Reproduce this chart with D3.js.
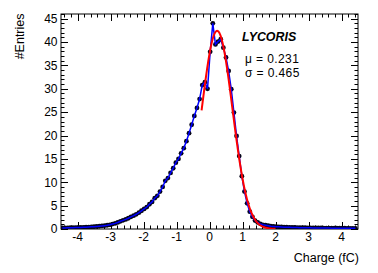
<!DOCTYPE html>
<html>
<head>
<meta charset="utf-8">
<script src="https://cdn.jsdelivr.net/npm/d3@7"></script>
<style>
  html, body { margin: 0; padding: 0; background: #fff; }
  svg { display: block; }
  text { font-family: "Liberation Sans", Arial, Helvetica, sans-serif; fill: #000; }
</style>
</head>
<body>
<svg id="chart" width="378" height="273"></svg>
<script>
// ---- data ----
const binLow = -4.5;
const binWidth = 0.08;
const entries = [
  0.22, 0.24, 0.25, 0.27, 0.28, 0.30, 0.32, 0.34, 0.36, 0.39,
  0.42, 0.46, 0.50, 0.54, 0.59, 0.65, 0.72, 0.80,
  0.9, 1.05, 1.2, 1.4, 1.65, 1.85, 2.05, 2.3, 2.6, 2.85,
  3.15, 3.5, 3.9, 4.3, 4.7, 5.3, 5.8, 6.6, 7.1, 8.0,
  9.0, 10.3, 10.9, 12.0, 13.0, 14.2, 15.0, 16.2, 17.3, 18.8,
  20.5, 22.3, 24.2, 25.9, 27.8, 30.8, 31.4, 30.0,
  37.9, 44.0, 39.5, 40.1, 40.6, 38.8, 36.7, 33.8, 29.9, 24.9,
  19.9, 15.6, 11.3, 8.0, 5.5, 3.7, 2.6, 1.8, 1.4, 1.1,
  0.9, 0.8, 0.7, 0.6, 0.55, 0.5,
  0.46, 0.43, 0.40, 0.38, 0.36, 0.34, 0.32, 0.30, 0.29, 0.28,
  0.27, 0.26, 0.25, 0.24, 0.23, 0.22, 0.21, 0.20, 0.20, 0.19,
  0.18, 0.18, 0.17, 0.17, 0.16, 0.16, 0.15, 0.15, 0.14, 0.14
];
const xTicks = [-4, -3, -2, -1, 0, 1, 2, 3, 4];
const yTicks = [0, 5, 10, 15, 20, 25, 30, 35, 40, 45];
const fitMu = 0.231;
const fitSigma = 0.465;
const fitAmp = 42.4;
const fitRange = [-0.24, 2.0];
const xLabel = "Charge (fC)";
const yLabel = "#Entries";
const tagText = "LYCORIS";
const statLines = ["\u03bc = 0.231", "\u03c3 = 0.465"];

// ---- layout ----
const L = 61, R = 358, T = 14, B = 229;
const x = d3.scaleLinear().domain([-4.5, 4.5]).range([L, R]);
const y = d3.scaleLinear().domain([0, 46]).range([B, T]);
const svg = d3.select("#chart");

const pts = entries.map((v, i) => ({ x: binLow + binWidth * (i + 0.5), y: v }));

// frame
svg.append("rect").attr("x", L).attr("y", T).attr("width", R - L).attr("height", B - T)
  .attr("fill", "none").attr("stroke", "#000").attr("stroke-width", 1);

// axes (ticks inside, ROOT style)
const xMinor = d3.range(-4.4, 4.5, 0.2).map(v => +v.toFixed(2));
const yMinor = d3.range(0, 46.01, 1);
const tickG = svg.append("g").attr("stroke", "#000").attr("stroke-width", 1);
xMinor.forEach(v => {
  const isMajor = Math.abs(v - Math.round(v)) < 1e-6;
  const len = isMajor ? 7 : 3.5;
  const px = Math.round(x(v)) + 0.5;
  tickG.append("line").attr("x1", px).attr("x2", px).attr("y1", B).attr("y2", B - len);
  tickG.append("line").attr("x1", px).attr("x2", px).attr("y1", T).attr("y2", T + len);
});
yMinor.forEach(v => {
  const isMajor = v % 5 === 0;
  const len = isMajor ? 7 : 3.5;
  const py = Math.round(y(v)) + 0.5;
  tickG.append("line").attr("x1", L).attr("x2", L + len).attr("y1", py).attr("y2", py);
  tickG.append("line").attr("x1", R).attr("x2", R - len).attr("y1", py).attr("y2", py);
});

// tick labels
svg.append("g").selectAll("text").data(xTicks).join("text")
  .attr("x", d => x(d)).attr("y", 241).attr("text-anchor", "middle")
  .attr("font-size", 12).text(d => String(d));
svg.append("g").selectAll("text").data(yTicks).join("text")
  .attr("x", 57.5).attr("y", d => y(d) + 4.3).attr("text-anchor", "end")
  .attr("font-size", 12).text(d => String(d));

// axis titles
svg.append("text").attr("x", 359).attr("y", 262).attr("text-anchor", "end")
  .attr("font-size", 12.5).text(xLabel);
svg.append("text").attr("transform", "translate(24,13.5) rotate(-90)")
  .attr("text-anchor", "end").attr("font-size", 12.5).text(yLabel);

// markers
const clipId = "plotclip";
svg.append("clipPath").attr("id", clipId).append("rect")
  .attr("x", L).attr("y", T).attr("width", R - L).attr("height", B - T);
const plot = svg.append("g").attr("clip-path", `url(#${clipId})`);
plot.append("g").selectAll("circle").data(pts).join("circle")
  .attr("cx", d => x(d.x)).attr("cy", d => y(d.y)).attr("r", 2.4)
  .attr("fill", "#050518");
// data line
plot.append("path").datum(pts)
  .attr("d", d3.line().x(d => x(d.x)).y(d => y(d.y)))
  .attr("fill", "none").attr("stroke", "#0000ff").attr("stroke-width", 1.5);

// fit curve (Gaussian with the fitted parameters)
const fitX = d3.range(fitRange[0], fitRange[1] + 1e-9, (fitRange[1] - fitRange[0]) / 200);
plot.append("path").datum(fitX)
  .attr("d", d3.line().x(d => x(d)).y(d => y(fitAmp * Math.exp(-0.5 * ((d - fitMu) / fitSigma) ** 2))))
  .attr("fill", "none").attr("stroke", "#ff0000").attr("stroke-width", 2);

// annotations
svg.append("text").attr("x", 242).attr("y", 41).attr("font-size", 12.4)
  .attr("font-weight", "bold").attr("font-style", "italic").text(tagText);
svg.selectAll("text.stat").data(statLines).join("text").attr("class", "stat")
  .attr("x", 245).attr("y", (d, i) => 63 + i * 13.5).attr("font-size", 12)
  .attr("letter-spacing", 0.4).text(d => d);
</script>
</body>
</html>
